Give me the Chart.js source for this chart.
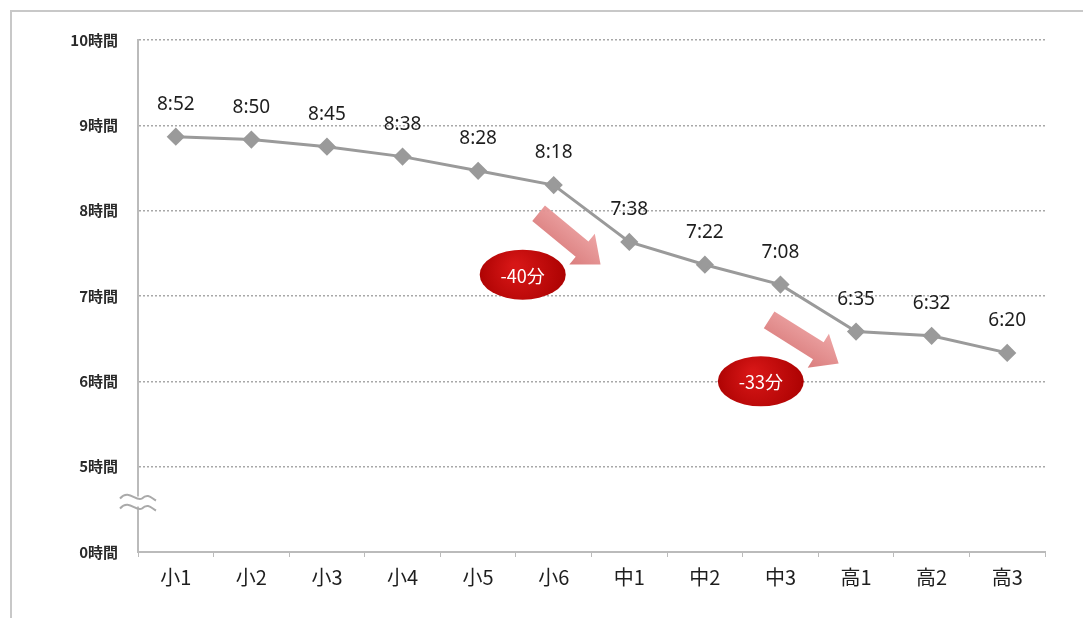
<!DOCTYPE html>
<html>
<head>
<meta charset="utf-8">
<script src="https://cdn.jsdelivr.net/npm/chart.js@4/dist/chart.umd.min.js"></script>
<style>
  html, body { margin: 0; padding: 0; background: #fff; }
  #wrap { width: 1083px; height: 618px; position: relative; }
</style>
</head>
<body>
<div id="wrap"><canvas id="sleepChart"></canvas></div>
<script>
// grades and average sleep time (h:mm)
const grades = ['小1', '小2', '小3', '小4', '小5', '小6', '中1', '中2', '中3', '高1', '高2', '高3'];
const sleepTimes = ['8:52', '8:50', '8:45', '8:38', '8:28', '8:18', '7:38', '7:22', '7:08', '6:35', '6:32', '6:20'];
const yTicks = [4, 5, 6, 7, 8, 9, 10];
const yTickLabels = ['0時間', '5時間', '6時間', '7時間', '8時間', '9時間', '10時間'];

// callouts, in data space (category index, hours)
const arrows = [
    { from: [4.8, 7.97], to: [5.62, 7.37] },
    { from: [7.85, 6.72], to: [8.77, 6.21] }
];
const badges = [
    { text: '-40分', at: [4.59, 7.25] },
    { text: '-33分', at: [7.74, 6.0] }
];
const axisBreakAt = 4.58;

const toHours = (t) => {
    const [h, m] = t.split(':').map(Number);
    return h + m / 60;
};
const hours = sleepTimes.map(toHours);

const frame = {
    id: 'frame',
    beforeDraw(chart) {
        const ctx = chart.ctx;
        ctx.save();
        ctx.strokeStyle = '#c8c8c8';
        ctx.lineWidth = 2;
        ctx.strokeRect(11, 11, chart.width + 20, chart.height + 20);
        ctx.restore();
    }
};

const pointLabels = {
    id: 'pointLabels',
    afterDatasetsDraw(chart) {
        const ctx = chart.ctx;
        const meta = chart.getDatasetMeta(0);
        ctx.save();
        ctx.font = '19px "Noto Sans", sans-serif';
        ctx.fillStyle = '#1e1e1e';
        ctx.textAlign = 'center';
        ctx.textBaseline = 'middle';
        meta.data.forEach((pt, i) => {
            ctx.fillText(sleepTimes[i], pt.x, pt.y - 32);
        });
        ctx.restore();
    }
};

const callouts = {
    id: 'callouts',
    afterDraw(chart) {
        const ctx = chart.ctx;
        const xs = chart.scales.x, ys = chart.scales.y;
        const px = (p) => [xs.getPixelForValue(p[0]), ys.getPixelForValue(p[1])];

        // axis break mark
        const bx = xs.left, by = ys.getPixelForValue(axisBreakAt);
        ctx.save();
        ctx.fillStyle = '#fff';
        ctx.fillRect(bx - 16, by - 6, 32, 10);
        ctx.strokeStyle = '#aaa';
        ctx.lineWidth = 2;
        [-6, 4].forEach(off => {
            ctx.beginPath();
            ctx.moveTo(bx - 18, by + off + 2);
            ctx.bezierCurveTo(bx - 9, by + off - 8, bx - 2, by + off + 6, bx + 4, by + off + 2);
            ctx.bezierCurveTo(bx + 10, by + off - 4, bx + 14, by + off + 2, bx + 18, by + off + 4);
            ctx.stroke();
        });
        ctx.restore();

        // arrows
        arrows.forEach(a => {
            const [x1, y1] = px(a.from);
            const [x2, y2] = px(a.to);
            const ang = Math.atan2(y2 - y1, x2 - x1);
            const len = Math.hypot(x2 - x1, y2 - y1);
            const shaft = 10, head = 20, headLen = 24;
            ctx.save();
            ctx.translate(x1, y1);
            ctx.rotate(ang);
            const g = ctx.createLinearGradient(0, -head, 0, head);
            g.addColorStop(0, 'rgba(236,160,160,0.95)');
            g.addColorStop(1, 'rgba(216,118,118,0.95)');
            ctx.fillStyle = g;
            ctx.beginPath();
            ctx.moveTo(0, -shaft);
            ctx.lineTo(len - headLen, -shaft);
            ctx.lineTo(len - headLen, -head);
            ctx.lineTo(len, 0);
            ctx.lineTo(len - headLen, head);
            ctx.lineTo(len - headLen, shaft);
            ctx.lineTo(0, shaft);
            ctx.closePath();
            ctx.fill();
            ctx.restore();
        });

        // red badges
        badges.forEach(b => {
            const [cx, cy] = px(b.at);
            ctx.save();
            const g = ctx.createRadialGradient(cx - 8, cy - 8, 4, cx, cy, 48);
            g.addColorStop(0, '#d61616');
            g.addColorStop(1, '#a80000');
            ctx.fillStyle = g;
            ctx.beginPath();
            ctx.ellipse(cx, cy, 43, 25, 0, 0, Math.PI * 2);
            ctx.fill();
            ctx.fillStyle = '#fff';
            ctx.font = '18px "Noto Sans CJK JP", sans-serif';
            ctx.textAlign = 'center';
            ctx.textBaseline = 'middle';
            ctx.fillText(b.text, cx, cy + 1);
            ctx.restore();
        });
    }
};

new Chart(document.getElementById('sleepChart'), {
    type: 'line',
    data: {
        labels: grades,
        datasets: [{
            data: hours,
            borderColor: '#9a9a9a',
            borderWidth: 3,
            backgroundColor: '#9a9a9a',
            pointStyle: 'rectRot',
            pointRadius: 7,
            pointHoverRadius: 7,
            tension: 0
        }]
    },
    options: {
        responsive: true,
        maintainAspectRatio: false,
        animation: false,
        events: [],
        layout: { padding: { top: 40, right: 38, left: 0, bottom: 0 } },
        plugins: {
            legend: { display: false },
            tooltip: { enabled: false }
        },
        scales: {
            x: {
                offset: true,
                grid: {
                    offset: true,
                    drawOnChartArea: false,
                    drawTicks: true,
                    tickLength: 5,
                    color: '#bbb'
                },
                border: { color: '#bbb', width: 2 },
                ticks: {
                    color: '#1e1e1e',
                    font: { family: '"Noto Sans CJK JP", sans-serif', size: 20 },
                    padding: 8
                },
                afterFit: (scale) => { scale.height = 66; }
            },
            y: {
                min: 4,
                max: 10,
                afterBuildTicks: (scale) => {
                    scale.ticks = yTicks.map(v => ({ value: v }));
                },
                grid: {
                    drawTicks: false,
                    color: (c) => c.tick && c.tick.value === 4 ? 'rgba(0,0,0,0)' : '#a8a8a8',
                    lineWidth: 1.5
                },
                border: { color: '#bbb', width: 2, dash: [2, 2] },
                ticks: {
                    color: '#2a2a2a',
                    padding: 20,
                    font: { family: '"Noto Sans CJK JP", sans-serif', size: 15, weight: 'bold' },
                    callback: (v) => yTickLabels[yTicks.indexOf(v)]
                },
                afterFit: (scale) => { scale.width = 138; }
            }
        }
    },
    plugins: [frame, pointLabels, callouts]
});
</script>
</body>
</html>
